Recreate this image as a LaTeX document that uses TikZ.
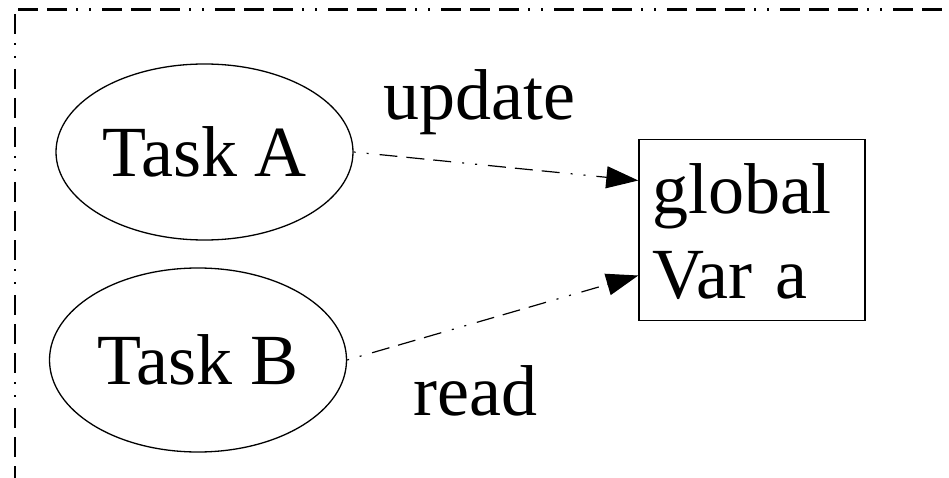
\documentclass[tikz,border=0pt]{standalone}
\usepackage{fontspec}
\setmainfont{Liberation Serif}
\usetikzlibrary{shapes.geometric,arrows.meta}

\tikzset{
  bigfont/.style={font=\fontsize{72}{85}\selectfont},
  task/.style={ellipse, draw, line width=1.3pt, inner sep=0pt,
    minimum width=297pt, bigfont},
  varbox/.style={rectangle, draw, line width=1.4pt, inner xsep=13pt, inner ysep=0pt,
    text width=200pt, align=left, bigfont},
  edgelabel/.style={inner sep=0pt, anchor=base west, bigfont},
  framedash/.style={line width=2.4pt,
    dash pattern=on 20pt off 9pt on 20pt off 9pt on 20pt off 9pt on 2pt off 11pt on 2pt off 11pt},
  flow/.style={line width=1.2pt,
    dash pattern=on 18pt off 9pt on 18pt off 9pt on 18pt off 11pt on 2pt off 11pt on 2pt off 11pt,
    dash phase=83pt, -{Triangle[length=32pt,width=22pt]}}
}

\begin{document}
\begin{tikzpicture}[x=1pt, y=-1pt]
  \useasboundingbox (0,0) rectangle (949,478);

  % surrounding frame (only its top and left sides fall on the page)
  \coordinate (corner) at (15,9.5);
  \coordinate (frameright) at (980,9.5);
  \coordinate (framebottom) at (15,500);
  \draw[framedash, dash phase=26pt] (corner) -- (frameright);
  \draw[framedash, dash phase=53.5pt] (corner) -- (framebottom);

  % tasks and the shared variable
  \node[task, minimum height=176pt] (taskA) at (204.5,152) {Task A};
  \node[task, minimum height=184pt] (taskB) at (198,360) {Task B};
  \node[varbox, text height=74pt, text depth=107pt] (var) at (752,230) {global\\Var a};

  % accesses
  \draw[flow] (taskA.east) -- ([yshift=49.5pt]var.west);
  \draw[flow] (taskB.east) -- ([yshift=-45.5pt]var.west);

  \node[edgelabel] (upd) at (383,120) {update};
  \node[edgelabel] (rd) at (413,415) {read};
\end{tikzpicture}
\end{document}
